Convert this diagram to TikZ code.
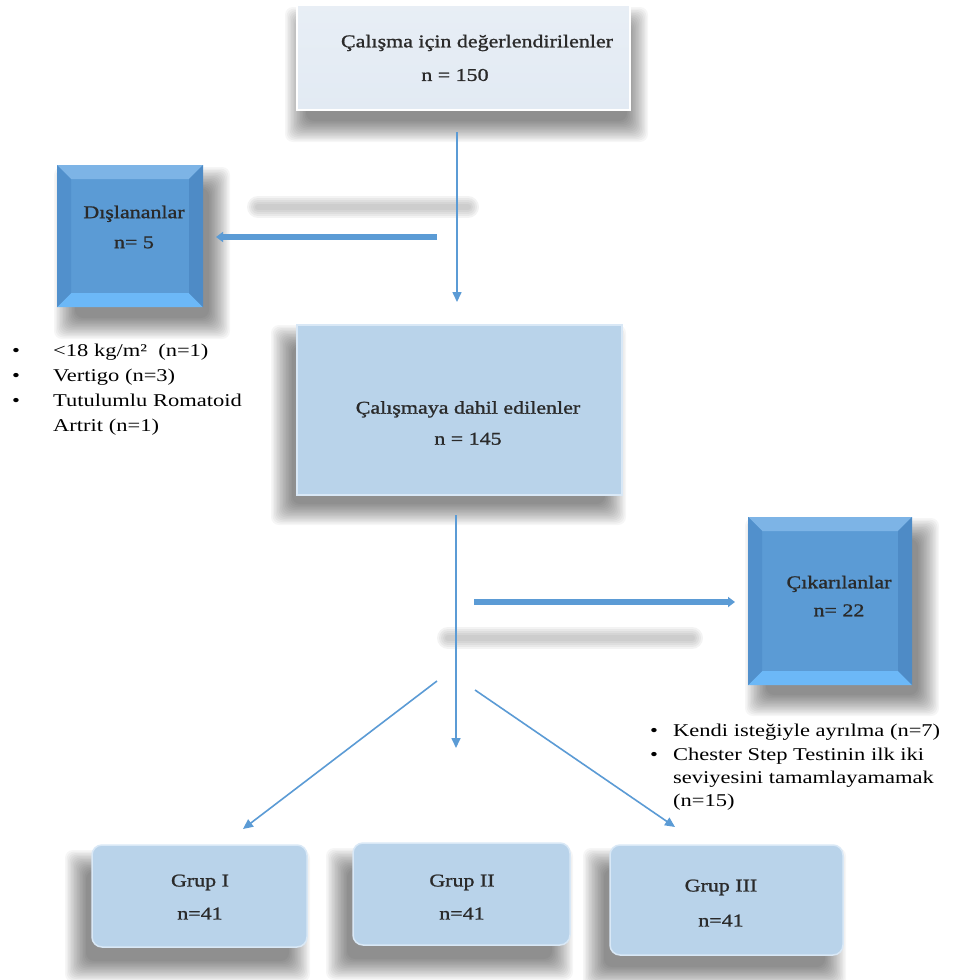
\documentclass[tikz,border=0pt]{standalone}
\usepackage{fontspec}
\setmainfont[FakeStretch=1.25]{Liberation Serif}
\newfontfamily\boxfont[FakeStretch=1.22,FakeBold=1.2]{Liberation Serif}
\usetikzlibrary{arrows.meta}
\definecolor{boxlight}{HTML}{B9D3EA}
\definecolor{boxedge}{HTML}{D9E8F6}
\definecolor{topface}{HTML}{E2EAF3}
\definecolor{darkface}{HTML}{5B9BD5}
\definecolor{bevT}{HTML}{7DB4E6}
\definecolor{bevB}{HTML}{6CB8F7}
\definecolor{bevL}{HTML}{5190CC}
\definecolor{bevR}{HTML}{4E8BC6}
\definecolor{arrowblue}{HTML}{5B9BD5}
\definecolor{txtcol}{HTML}{2A2A2A}
\pgfdeclarelayer{bg}
\pgfsetlayers{bg,main}
\newcommand\bevelfaces[1]{%
 \fill[bevT] (#1.north west) -- (#1.north east) -- ([xshift=-14pt,yshift=-14pt]#1.north east) -- ([xshift=14pt,yshift=-14pt]#1.north west) -- cycle;
 \fill[bevB] (#1.south west) -- (#1.south east) -- ([xshift=-14pt,yshift=14pt]#1.south east) -- ([xshift=14pt,yshift=14pt]#1.south west) -- cycle;
 \fill[bevL] (#1.north west) -- ([xshift=14pt,yshift=-14pt]#1.north west) -- ([xshift=14pt,yshift=14pt]#1.south west) -- (#1.south west) -- cycle;
 \fill[bevR] (#1.north east) -- ([xshift=-14pt,yshift=-14pt]#1.north east) -- ([xshift=-14pt,yshift=14pt]#1.south east) -- (#1.south east) -- cycle;
}
% soft shadow: node, xshift, yshift (canvas pt; negative yshift = down)
\newcommand\softshadow[3]{%
 \begin{pgfonlayer}{bg}
 \foreach \r in {15,13.5,12,10.5,9,7.5,6,4.5,3,1.5,0,-1.5,-3,-4.5,-6} {
  \fill[black, opacity=0.035, rounded corners=8pt]
    ([xshift={#2-(\r)}, yshift={#3-(\r)}]#1.south west) rectangle
    ([xshift={#2+(\r)}, yshift={#3+(\r)}]#1.north east);
 }
 \end{pgfonlayer}}
\tikzset{
 txt/.style={inner sep=0pt, align=center, text=txtcol, font=\boxfont\fontsize{18}{31}\selectfont},
 btxt/.style={inner sep=0pt, anchor=base west, text=black, font=\fontsize{18}{25}\selectfont},
 lightbox/.style={rectangle, outer sep=0pt, fill=boxlight, draw=boxedge, line width=1.5pt},
 grupbox/.style={lightbox, rounded corners=10pt, minimum height=102pt},
 topbox/.style={rectangle, outer sep=0pt, top color=topface!80!white, bottom color=topface, draw=white, line width=2pt,
   minimum width=333pt, minimum height=105pt},
 bevelbox/.style={rectangle, outer sep=0pt, fill=darkface},
 thinarrow/.style={draw=arrowblue, line width=1.6pt, -{Triangle[length=10pt,width=9pt]}},
 thickarrow/.style={draw=arrowblue, line width=5.5pt, -{Triangle[length=7pt,width=10pt]}},
}
\begin{document}
\begin{tikzpicture}[x=1pt,y=-1pt]
\useasboundingbox (0,0) rectangle (963,980);
\begin{pgfonlayer}{bg}
\fill[white] (0,0) rectangle (963,980);
% shadow strips of the side arrows
\foreach \w in {22,18,14,10,6} {
  \draw[gray, opacity=0.09, line width=\w pt, line cap=round] (258,207) -- (468,207);
  \draw[gray, opacity=0.09, line width=\w pt, line cap=round] (448,638) -- (692,638);
}
\end{pgfonlayer}

% boxes
\node[topbox] (top) at (463.5,57.5) {};
\softshadow{top}{3}{-17}
\node[txt] (top1) at (477,43) {Çalışma için değerlendirilenler};
\node[txt] (top2) at (455,75) {n = 150};

\node[bevelbox, minimum width=146pt, minimum height=142pt] (dis) at (130,236) {};
\softshadow{dis}{12}{-17}
\bevelfaces{dis}
\node[txt, font=\boxfont\fontsize{18}{30}\selectfont] (distxt) at (134,227) {Dışlananlar\\n= 5};

\node[lightbox, minimum width=325pt, minimum height=170pt] (mid) at (459.5,410) {};
\softshadow{mid}{-11}{-15}
\node[txt] (midtxt) at (468,423) {Çalışmaya dahil edilenler\\n = 145};

\node[bevelbox, minimum width=164pt, minimum height=168pt] (cik) at (830,601) {};
\softshadow{cik}{12}{-16}
\bevelfaces{cik}
\node[txt, font=\boxfont\fontsize{18}{28}\selectfont] (ciktxt) at (839,596) {Çıkarılanlar\\n= 22};

\node[grupbox, minimum width=215pt] (g1) at (199.5,896) {};
\softshadow{g1}{-12}{-20}
\node[txt, font=\boxfont\fontsize{18}{33}\selectfont] (g1t) at (200,897) {Grup I\\n=41};
\node[grupbox, minimum width=217pt] (g2) at (461.5,894) {};
\softshadow{g2}{-12}{-20}
\node[txt, font=\boxfont\fontsize{18}{33}\selectfont] (g2t) at (462,897) {Grup II\\n=41};
\node[grupbox, minimum width=233pt, minimum height=110pt] (g3) at (726.5,900) {};
\softshadow{g3}{-12}{-18}
\node[txt, font=\boxfont\fontsize{18}{35}\selectfont] (g3t) at (721,903) {Grup III\\n=41};

% bullet lists
\node[btxt] (lb1) at (12,356) {•};
\node[btxt] (lt1) at (53,356) {<18 kg/m²\ \ (n=1)};
\node[btxt] (lb2) at (12,381) {•};
\node[btxt] (lt2) at (53,381) {Vertigo (n=3)};
\node[btxt] (lb3) at (12,406) {•};
\node[btxt] (lt3) at (53,406) {Tutulumlu Romatoid};
\node[btxt] (lt4) at (53,431) {Artrit (n=1)};

\node[btxt] (rb1) at (650,736) {•};
\node[btxt] (rt1) at (673,736) {Kendi isteğiyle ayrılma (n=7)};
\node[btxt] (rb2) at (650,760) {•};
\node[btxt] (rt2) at (673,760) {Chester Step Testinin ilk iki};
\node[btxt] (rt3) at (673,783) {seviyesini tamamlayamamak};
\node[btxt] (rt4) at (673,806) {(n=15)};

% connectors
\draw[thinarrow] ([xshift=-6.5pt,yshift=-22pt]top.south) -- ([xshift=-2.5pt,yshift=23pt]mid.north);
\draw[thickarrow] ([xshift=234pt,yshift=-1pt]dis.east) -- ([xshift=13pt,yshift=-1pt]dis.east);
\draw[thinarrow] ([xshift=-3.5pt,yshift=-20pt]mid.south) -- ([xshift=-5.5pt,yshift=95pt]g2.north);
\draw[thickarrow] ([xshift=-274pt,yshift=-1pt]cik.west) -- ([xshift=-13pt,yshift=-1pt]cik.west);
\draw[thinarrow] ([xshift=-22.5pt,yshift=-186pt]mid.south) -- ([xshift=43.5pt,yshift=16pt]g1.north);
\draw[thinarrow] ([xshift=15.5pt,yshift=-195pt]mid.south) -- ([xshift=-51.5pt,yshift=18pt]g3.north);
\end{tikzpicture}
\end{document}
